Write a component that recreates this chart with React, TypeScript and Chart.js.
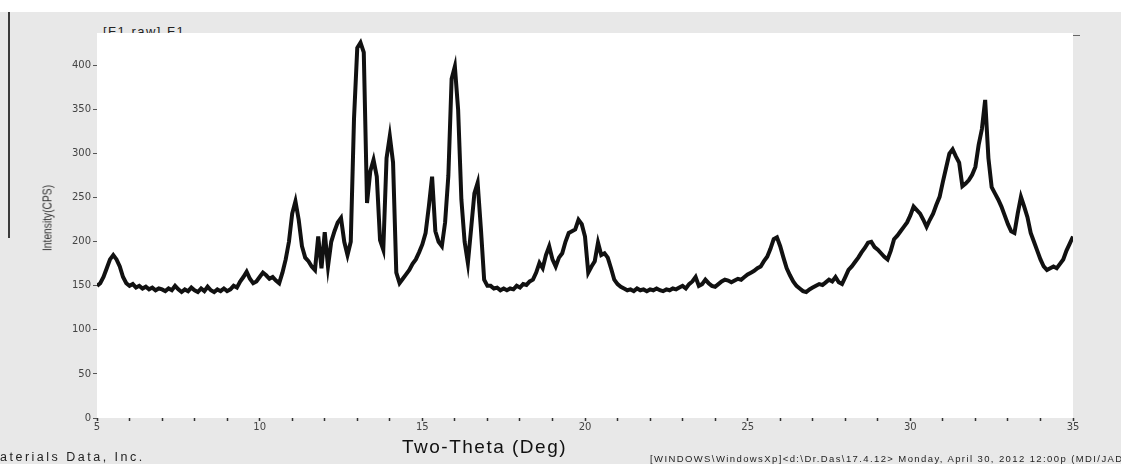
import React, { useEffect, useRef } from 'react';
import { Chart, registerables } from 'chart.js';

Chart.register(...registerables);

// Two-Theta sampling: 5.0 .. 35.0 deg, 0.1 deg per reading
const thetaStart = 5;
const thetaStep = 0.1;

const intensity05to10 = [
  150, 153, 160, 170, 180, 185, 180, 172, 160, 153,
  150, 152, 148, 150, 147, 149, 146, 148, 145, 147,
  146, 144, 147, 145, 150, 146, 143, 146, 144, 148,
  145, 143, 147, 144, 149, 145, 143, 146, 144, 147,
  144, 146, 150, 148, 155, 160, 166, 158, 153, 155,
];
const intensity10to15 = [
  160, 165, 162, 158, 160, 156, 153, 165, 180, 200,
  232, 246, 225, 195, 182, 178, 172, 168, 206, 170,
  211, 172, 200, 212, 222, 227, 200, 185, 200, 340,
  420, 426, 415, 244, 280, 293, 274, 202, 191, 295,
  320, 290, 165, 153, 158, 163, 168, 175, 180, 188,
];
const intensity15to20 = [
  197, 210, 240, 274, 212, 200, 195, 222, 275, 385,
  399, 350, 248, 200, 176, 215, 255, 267, 215, 157,
  150, 150, 147, 148, 145, 147, 145, 147, 146, 150,
  148, 152, 151, 155, 157, 165, 176, 170, 185, 195,
  180, 172, 182, 187, 200, 210, 212, 214, 225, 220,
];
const intensity20to25 = [
  206, 165, 172, 178, 199, 185, 187, 182, 170, 157,
  152, 149, 147, 145, 146, 144, 147, 145, 146, 144,
  146, 145, 147, 145, 144, 146, 145, 147, 146, 148,
  150, 147, 152, 155, 160, 150, 152, 157, 153, 150,
  149, 152, 155, 157, 156, 154, 156, 158, 157, 160,
];
const intensity25to30 = [
  163, 165, 167, 170, 172, 178, 183, 192, 203, 205,
  195, 182, 170, 162, 155, 150, 147, 144, 143, 146,
  148, 150, 152, 151, 154, 157, 155, 160, 154, 152,
  160, 168, 172, 177, 182, 188, 193, 199, 200, 194,
  191, 187, 183, 180, 190, 203, 207, 212, 217, 222,
];
const intensity30to35 = [
  230, 240, 236, 232, 225, 217, 225, 232, 242, 251,
  268, 284, 300, 305, 297, 290, 263, 266, 270, 276,
  285, 310, 328, 361, 295, 262, 255, 248, 240, 230,
  220, 212, 210, 232, 251, 240, 228, 210, 200, 190,
  180, 172, 168, 170, 172, 170, 175, 180, 190, 198,
  206,
];

const xMin = 5;
const xMax = 35;
const yMin = 0;
const yMax = 437;
const xMajorLabels = [5, 10, 15, 20, 25, 30, 35];
const yTickStep = 50;

const xTitle = 'Two-Theta (Deg)';
const yTitle = 'Intensity(CPS)';
const topLabel = '[F1 raw] F1';
const footerLeft = 'aterials Data, Inc.';
const footerRight =
  '[WINDOWS\\WindowsXp]<d:\\Dr.Das\\17.4.12> Monday, April 30, 2012 12:00p (MDI/JADE';

const allIntensity = [
  ...intensity05to10,
  ...intensity10to15,
  ...intensity15to20,
  ...intensity20to25,
  ...intensity25to30,
  ...intensity30to35,
];

const plotBg = {
  id: 'plotBg',
  beforeDraw(chart: any) {
    const { ctx, chartArea } = chart;
    ctx.save();
    ctx.fillStyle = '#ffffff';
    ctx.fillRect(chartArea.left, chartArea.top, chartArea.right - chartArea.left, chartArea.bottom - chartArea.top);
    ctx.restore();
  },
};

export default function App() {
  const canvasRef = useRef<HTMLCanvasElement | null>(null);

  useEffect(() => {
    document.body.style.margin = '0';
    const canvas = canvasRef.current;
    if (!canvas) return;
    const points = allIntensity.map((v, i) => ({
      x: Math.round((thetaStart + i * thetaStep) * 10) / 10,
      y: v,
    }));
    const tickFont = { family: "'DejaVu Sans', sans-serif", size: 10 };
    const chart = new Chart(canvas, {
      type: 'line',
      data: {
        datasets: [
          {
            data: points,
            borderColor: '#111111',
            borderWidth: 4,
            borderJoinStyle: 'miter',
            pointRadius: 0,
            tension: 0,
            fill: false,
          },
        ],
      },
      options: {
        animation: false,
        responsive: false,
        maintainAspectRatio: false,
        events: [],
        layout: { padding: { top: 33, right: 48, left: 0, bottom: 0 } },
        plugins: {
          legend: { display: false },
          tooltip: { enabled: false },
          title: { display: false },
        },
        scales: {
          x: {
            type: 'linear',
            min: xMin,
            max: xMax,
            border: { display: false },
            grid: {
              drawOnChartArea: false,
              drawTicks: true,
              tickLength: 3,
              tickColor: '#333333',
              tickWidth: 1.5,
            },
            ticks: {
              stepSize: 1,
              autoSkip: false,
              maxRotation: 0,
              padding: 0,
              color: '#444444',
              font: tickFont,
              includeBounds: false,
              callback: (v: any) => (xMajorLabels.includes(Number(v)) ? String(v) : ''),
            },
            afterFit: (scale: any) => {
              scale.height = 46;
            },
          },
          y: {
            type: 'linear',
            min: yMin,
            max: yMax,
            border: { display: false },
            grid: {
              drawOnChartArea: false,
              drawTicks: true,
              tickLength: 4,
              tickColor: '#555555',
              tickWidth: 1,
            },
            ticks: {
              stepSize: yTickStep,
              includeBounds: false,
              padding: 2,
              color: '#444444',
              font: tickFont,
            },
            afterFit: (scale: any) => {
              scale.width = 97;
            },
          },
        },
      },
      plugins: [plotBg],
    });
    return () => chart.destroy();
  }, []);

  const sans = "'Liberation Sans', Arial, sans-serif";

  return (
    <div
      style={{
        position: 'fixed',
        left: 0,
        top: 0,
        width: 1121,
        height: 464,
        background: '#e8e8e8',
        overflow: 'hidden',
        fontFamily: sans,
      }}
    >
      <div style={{ position: 'absolute', left: 0, top: 0, width: 1121, height: 12, background: '#ffffff' }} />
      <div style={{ position: 'absolute', left: 8, top: 12, width: 2, height: 226, background: '#3a3a3a' }} />
      <div
        style={{
          position: 'absolute',
          left: 103,
          top: 24,
          fontSize: 13,
          letterSpacing: 1.5,
          color: '#222',
          whiteSpace: 'nowrap',
          lineHeight: '15px',
        }}
      >
        {topLabel}
      </div>
      <canvas ref={canvasRef} width={1121} height={464} style={{ position: 'absolute', left: 0, top: 0 }} />
      <div style={{ position: 'absolute', left: 1073, top: 35, width: 7, height: 1, background: '#666' }} />
      <div
        style={{
          position: 'absolute',
          left: 48,
          top: 218,
          transform: 'translate(-50%, -50%) rotate(-90deg) scaleX(0.82)',
          fontSize: 12.5,
          color: '#333',
          whiteSpace: 'nowrap',
          lineHeight: '13px',
        }}
      >
        {yTitle}
      </div>
      <div
        style={{
          position: 'absolute',
          left: 402,
          top: 437,
          fontSize: 19,
          letterSpacing: 1.5,
          color: '#111',
          whiteSpace: 'nowrap',
          lineHeight: '20px',
        }}
      >
        {xTitle}
      </div>
      <div
        style={{
          position: 'absolute',
          left: 0,
          top: 451,
          fontSize: 12.5,
          letterSpacing: 2.5,
          color: '#222',
          whiteSpace: 'nowrap',
          lineHeight: '13px',
        }}
      >
        {footerLeft}
      </div>
      <div
        style={{
          position: 'absolute',
          left: 650,
          top: 454,
          fontSize: 9.5,
          letterSpacing: 1.4,
          color: '#222',
          whiteSpace: 'nowrap',
          lineHeight: '10px',
        }}
      >
        {footerRight}
      </div>
    </div>
  );
}
